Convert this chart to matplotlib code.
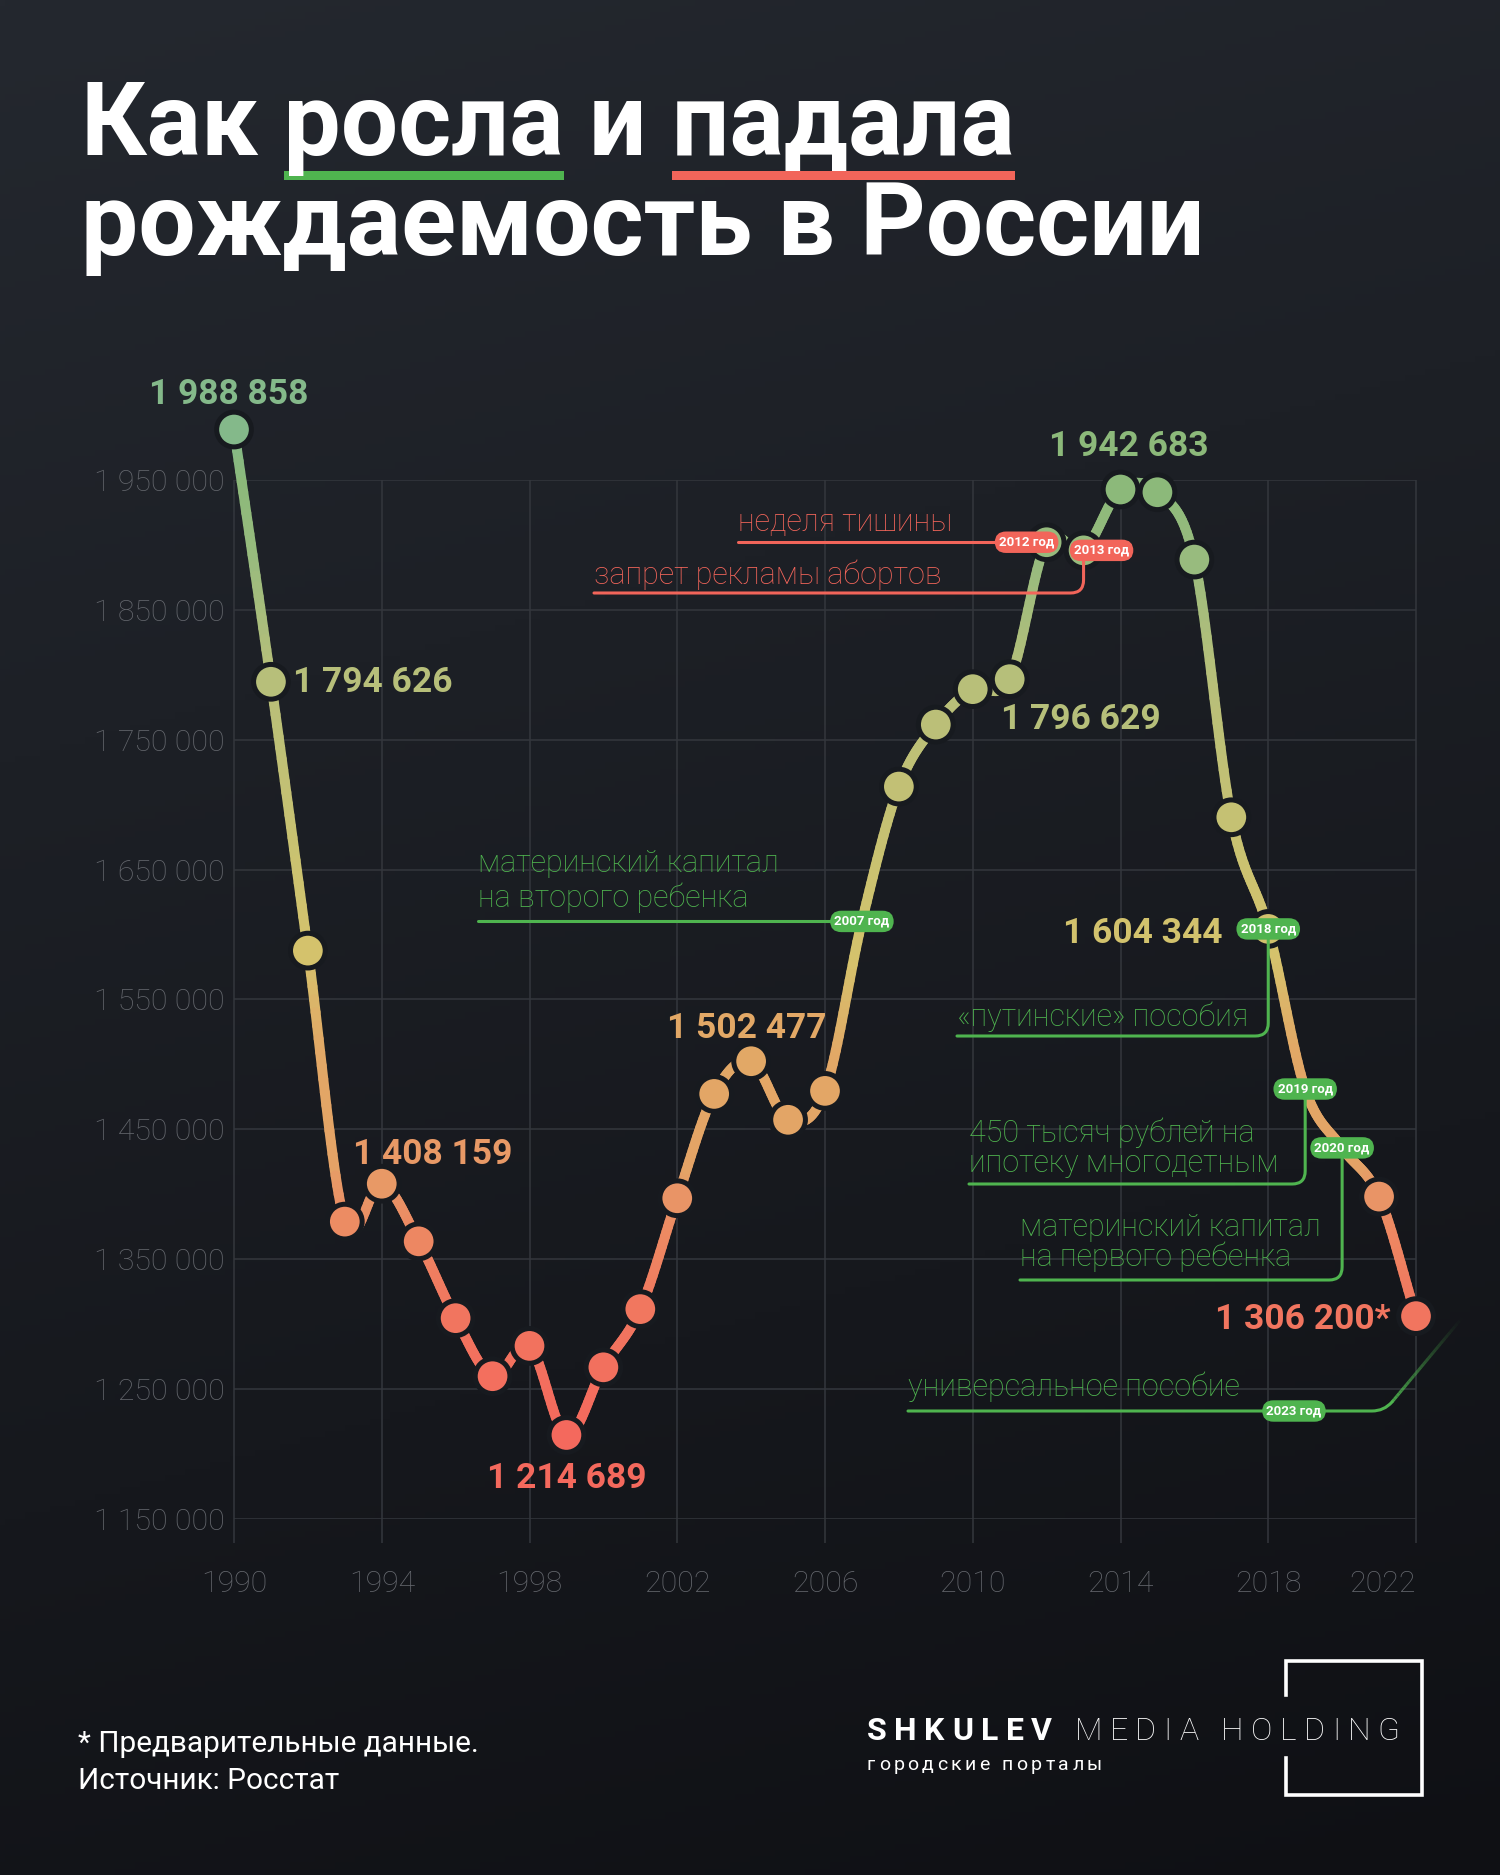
"""
Рождаемость в России 1990–2022 (Росстат), инфографика в тёмной теме.
Сохраняет out.png 1500x1875.
"""

import matplotlib
matplotlib.use("Agg")
import matplotlib.pyplot as plt
import matplotlib.transforms as mtransforms
import numpy as np
from matplotlib.collections import LineCollection
from matplotlib.colors import LinearSegmentedColormap, Normalize
from matplotlib.patches import PathPatch, Rectangle
from matplotlib.path import Path

plt.rcParams["font.family"] = ["Roboto", "DejaVu Sans"]

# ── Данные ───────────────────────────────────────────────────────────────────
years = list(range(1990, 2023))
births = [1988858, 1794626, 1587644, 1378983, 1408159, 1363806, 1304638,
          1259943, 1283292, 1214689, 1266800, 1311604, 1396967, 1477301,
          1502477, 1457376, 1479637, 1610122, 1713947, 1761687, 1788948,
          1796629, 1902084, 1895822, 1942683, 1940579, 1888729, 1690307,
          1604344, 1481074, 1435750, 1398253, 1306200]

labeled_years = [1990, 1991, 1994, 1999, 2004, 2011, 2014, 2018, 2022]
label_suffix = {2022: "*"}
hidden_markers = [2007, 2019, 2020]

yticks = list(range(1150000, 1950001, 100000))
xticks = list(range(1990, 2023, 4))

# события: текст, год-значок
ev_red = [("неделя тишины", 2012), ("запрет рекламы абортов", 2013)]
ev_green = [(["материнский капитал", "на второго ребенка"], 2007),
            (["«путинские» пособия"], 2018),
            (["450 тысяч рублей на", "ипотеку многодетным"], 2019),
            (["материнский капитал", "на первого ребенка"], 2020),
            (["универсальное пособие"], 2023)]

# ── Стиль ────────────────────────────────────────────────────────────────────
W, H, DPI = 1500, 1875, 100
X0, X1, Y0, Y1 = 234, 1416, 480, 1519      # область графика, пиксели
GRID = "#34373d"
TICK = "#64676d"
RED = "#f2655a"
GREEN = "#4fb44f"
RING = "#171a1f"

stop_v = [1214689, 1310000, 1370000, 1400000, 1420000, 1510000, 1580000,
          1650000, 1720000, 1800000, 1890000, 1945000, 1988858]
stop_c = ["#f4695d", "#f1765f", "#ed8962", "#e99566", "#e4a366", "#e2a866",
          "#d5c26c", "#cbc270", "#c1c075", "#b6bf7a", "#98bb7e", "#8cb97a",
          "#84b98a"]
vmin, vmax = stop_v[0], stop_v[-1]
cmap = LinearSegmentedColormap.from_list(
    "births", [((v - vmin) / (vmax - vmin), c) for v, c in zip(stop_v, stop_c)])
norm = Normalize(vmin, vmax)

# смещения подписей значений (пункты) и выравнивание
label_pos = {1990: (-4, 25.5, "center"), 1991: (16, -0.5, "left"),
             1994: (37, 21, "center"), 1999: (0, -31, "center"),
             2004: (-3, 23.5, "center"), 2011: (-6, -29, "left"),
             2014: (6, 31, "center"), 2018: (-33, -3.5, "right"),
             2022: (-18, -2.5, "right")}


def fmt(v):
    return f"{v:,}".replace(",", " ")


def catmull(xs, ys, n=24):
    """Гладкая кривая через точки (кубический Эрмит, касательные Катмулла-Рома)."""
    xs = np.asarray(xs, float)
    ys = np.asarray(ys, float)
    last = len(xs) - 1
    t = np.linspace(0, 1, n, endpoint=False)
    h00 = 2 * t**3 - 3 * t**2 + 1
    h10 = t**3 - 2 * t**2 + t
    h01 = -2 * t**3 + 3 * t**2
    h11 = t**3 - t**2
    out = [[], []]
    for i in range(last):
        i0, i3 = max(i - 1, 0), min(i + 2, last)
        for k, a in enumerate((xs, ys)):
            m1 = (a[i + 1] - a[i0]) / (i + 1 - i0)
            m2 = (a[i3] - a[i]) / (i3 - i)
            out[k].append(h00 * a[i] + h10 * m1 + h01 * a[i + 1] + h11 * m2)
    px = np.concatenate(out[0] + [[xs[-1]]])
    py = np.concatenate(out[1] + [[ys[-1]]])
    return px, py


fig = plt.figure(figsize=(W / DPI, H / DPI), dpi=DPI)
PX = mtransforms.Affine2D().scale(1, -1).translate(0, H)   # пиксели от верхнего левого угла

# ── Фон ──────────────────────────────────────────────────────────────────────
bg = fig.add_axes([0, 0, 1, 1], zorder=-10)
yy, xx = np.mgrid[0:1:300j, 0:1:300j]
g = (0.82 * yy + 0.18 * xx)[..., None]
top = np.array([36, 40, 47]) / 255
bot = np.array([15, 16, 20]) / 255
bg.imshow(top * (1 - g) + bot * g, extent=[0, 1, 0, 1], aspect="auto", origin="upper")
bg.axis("off")

# ── Оси ──────────────────────────────────────────────────────────────────────
ax = fig.add_axes([X0 / W, 1 - Y1 / H, (X1 - X0) / W, (Y1 - Y0) / H])
ax.set_xlim(1990, 2022)
ax.set_ylim(1150000, 1950000)
ax.patch.set_alpha(0)
for s in ax.spines.values():
    s.set_visible(False)

ax.hlines(yticks, 1990, 2022, color=GRID, lw=1.1, zorder=1)
ax.vlines(xticks, 1131500, 1950000, color=GRID, lw=1.1, zorder=1, clip_on=False)

ax.set_yticks(yticks, labels=[fmt(v) for v in yticks])
ax.set_xticks(xticks, labels=[str(x) for x in xticks])
ax.tick_params(axis="y", length=0, pad=7, labelsize=21.8, labelcolor=TICK)
ax.tick_params(axis="x", length=0, pad=47, labelsize=21.8, labelcolor=TICK)
for lab in ax.get_xticklabels():
    lab.set_va("center")
ax.get_xticklabels()[-1].set_ha("right")
for lab in ax.get_xticklabels() + ax.get_yticklabels():
    lab.set_fontweight("light")

# ── Линия с градиентом ───────────────────────────────────────────────────────
sx, sy = catmull(years, births)
pts = np.column_stack([sx, sy]).reshape(-1, 1, 2)
segs = np.concatenate([pts[:-1], pts[1:]], axis=1)
lc = LineCollection(segs, colors=cmap(norm((sy[:-1] + sy[1:]) / 2)),
                    linewidths=7.2, capstyle="round", zorder=3)
lc.set_clip_on(False)
ax.add_collection(lc)

mx = [y for y in years if y not in hidden_markers]
mv = [v for y, v in zip(years, births) if y not in hidden_markers]
ax.scatter(mx, mv, s=25**2, c=cmap(norm(mv)), edgecolors=RING,
           linewidths=3.6, zorder=4, clip_on=False)

for y in labeled_years:
    v = births[years.index(y)]
    dx, dy, ha = label_pos[y]
    ax.annotate(fmt(v) + label_suffix.get(y, ""), (y, v), xytext=(dx, dy),
                textcoords="offset points", ha=ha, va="center",
                fontsize=25.5, fontweight="bold", color=cmap(norm(v)),
                zorder=6, annotation_clip=False)


def to_px(year, v):
    xd, yd = ax.transData.transform((year, v))
    return xd, H - yd


def line_path(verts, codes, color):
    fig.add_artist(PathPatch(Path(verts, codes), transform=PX, fc="none",
                             ec=color, lw=2.2, capstyle="round", zorder=5))


def badge(x, y, text, color):
    fig.text(x, y, text, transform=PX, ha="center", va="center",
             fontsize=9.5, fontweight="bold", color="white", zorder=8,
             bbox=dict(boxstyle="round,pad=0.32,rounding_size=0.85",
                       fc=color, ec="none"))


def ev_text(x, y, text, color):
    fig.text(x, y, text, transform=PX, ha="left", va="center",
             fontsize=22, fontweight="light", color=color, zorder=6)


M, L, C3 = Path.MOVETO, Path.LINETO, Path.CURVE3
R = 13  # радиус скругления

# неделя тишины — 2012
px_, py_ = to_px(2012, births[years.index(2012)])
ev_text(738, 522, ev_red[0][0], RED)
line_path([(738, py_), (px_ - 20, py_)], [M, L], RED)
# запрет рекламы абортов — 2013
qx, qy = to_px(2013, births[years.index(2013)])
ev_text(594, 575, ev_red[1][0], RED)
line_path([(594, 593), (qx - R, 593), (qx, 593), (qx, 593 - R), (qx, qy)],
          [M, L, C3, C3, L], RED)
badge(px_ - 20, py_, f"{ev_red[0][1]} год", RED)
badge(qx + 18, qy, f"{ev_red[1][1]} год", RED)

# материнский капитал на второго — 2007
bx, by = to_px(2007, births[years.index(2007)])
ev_text(478, 863, ev_green[0][0][0], GREEN)
ev_text(478, 898, ev_green[0][0][1], GREEN)
line_path([(478, by), (bx, by)], [M, L], GREEN)
badge(bx, by, f"{ev_green[0][1]} год", GREEN)

# три выноски справа: текст слева, горизонталь, скругление вверх к точке
right_calls = [(ev_green[1], 957, [1017], 1036),
               (ev_green[2], 969, [1133, 1164], 1184),
               (ev_green[3], 1020, [1227, 1257], 1280)]
for (lines, yr), left, ty, hy in right_calls:
    cx, cy = to_px(yr, births[years.index(yr)])
    for t_, yline in zip(lines, ty):
        ev_text(left, yline, t_, GREEN)
    line_path([(left, hy), (cx - R, hy), (cx, hy), (cx, hy - R), (cx, cy)],
              [M, L, C3, C3, L], GREEN)
for (lines, yr), left, ty, hy in right_calls:
    cx, cy = to_px(yr, births[years.index(yr)])
    badge(cx, cy, f"{yr} год", GREEN)

# универсальное пособие — 2023, линия уходит вверх вправо и гаснет
ev_text(908, 1387, ev_green[4][0][0], GREEN)
line_path([(908, 1411), (1372, 1411), (1384, 1411), (1392, 1402)],
          [M, L, C3, C3], GREEN)
tt = np.linspace(0, 1, 30)
fx = 1392 + tt * (1462 - 1392)
fy = 1402 + tt * (1318 - 1402)
fseg = np.stack([np.column_stack([fx[:-1], fy[:-1]]),
                 np.column_stack([fx[1:], fy[1:]])], axis=1)
fcol = np.array([matplotlib.colors.to_rgba(GREEN, 0.9 * (1 - a) ** 1.3)
                 for a in tt[:-1]])
fade = LineCollection(fseg, colors=fcol, linewidths=2.2, transform=PX, zorder=5)
fig.add_artist(fade)
badge(1294, 1411, f"{ev_green[4][1]} год", GREEN)

# ── Заголовок ────────────────────────────────────────────────────────────────
rend = fig.canvas.get_renderer()
TX = 81
TSIZE = 73.2
title_kw = dict(fontsize=TSIZE, fontweight="bold", color="white", transform=PX,
                ha="left", va="baseline")
fig.text(TX, 155, "Как росла и падала", **title_kw)
fig.text(TX, 255, "рождаемость в России", **title_kw)


def width(s):
    t = fig.text(0, 0, s, fontsize=TSIZE, fontweight="bold")
    w = t.get_window_extent(rend).width
    t.remove()
    return w


for pre, word, col in (("Как ", "росла", GREEN), ("Как росла и ", "падала", RED)):
    x_l = TX + width(pre + word[0]) - width(word[0])
    x_r = TX + width(pre + word)
    fig.add_artist(Rectangle((x_l, 171), x_r - x_l, 9, transform=PX,
                             fc=col, ec="none"))

# ── Подвал ───────────────────────────────────────────────────────────────────
foot_kw = dict(fontsize=21.4, color="white", transform=PX, ha="left", va="baseline")
fig.text(78, 1752, "* Предварительные данные.", **foot_kw)
fig.text(78, 1789, "Источник: Росстат", **foot_kw)


def spaced(x, y, s, track, **kw):
    size_px = kw["fontsize"] * DPI / 72
    for ch in s:
        if ch == " ":
            x += size_px * 0.26 + track
            continue
        t = fig.text(x, y, ch, transform=PX, ha="left", va="baseline", **kw)
        x += t.get_window_extent(rend).width + track
    return x


xe = spaced(867, 1740, "SHKULEV", 7.5, fontsize=23, fontweight="bold", color="white")
spaced(xe, 1740, " MEDIA HOLDING", 7.3, fontsize=23, fontweight="light", color="white")
spaced(867, 1770, "городские порталы", 3.4, fontsize=14, color="white")

box = [(1286, 1695), (1286, 1661), (1422, 1661), (1422, 1795), (1286, 1795), (1286, 1758)]
fig.add_artist(PathPatch(Path(box, [M, L, L, L, L, L]), transform=PX, fc="none",
                         ec="white", lw=2.6, capstyle="projecting"))

fig.savefig("out.png", dpi=DPI)
